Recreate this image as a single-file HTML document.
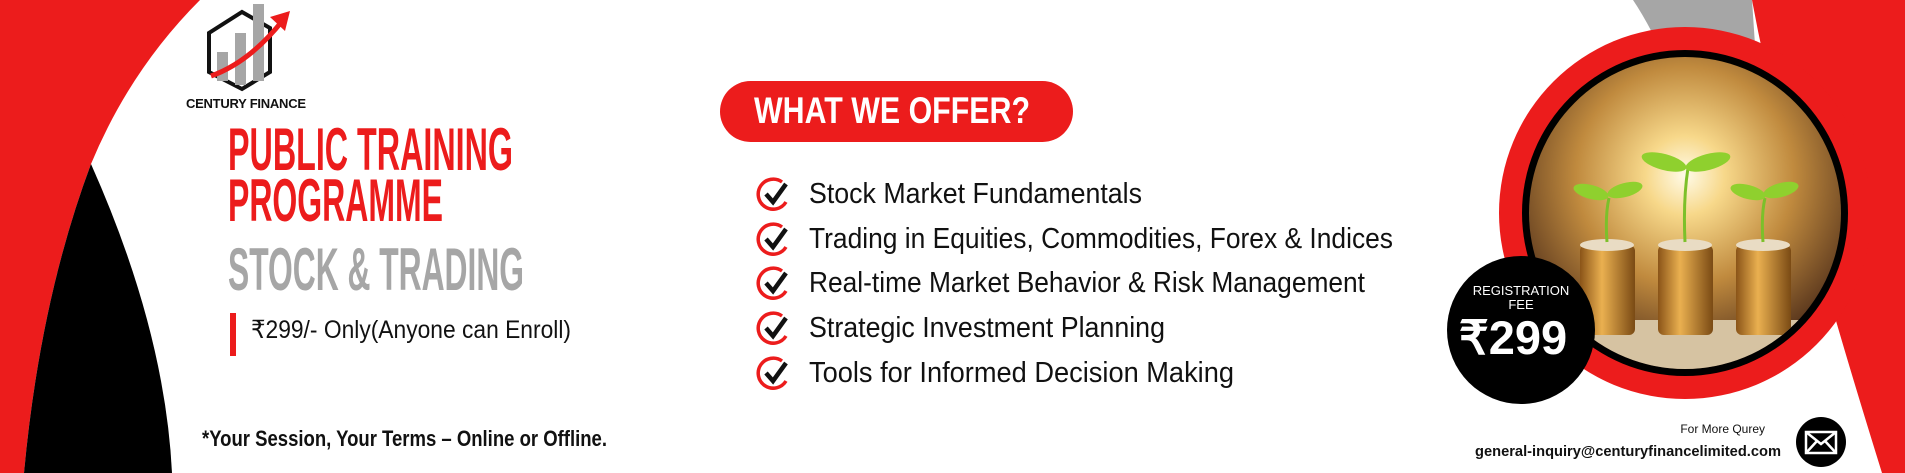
<!DOCTYPE html>
<html><head><meta charset="utf-8"><style>
html,body{margin:0;padding:0;background:#fff;width:1905px;height:473px;overflow:hidden}
svg{display:block}
.n{font-family:"Liberation Sans Narrow","Liberation Sans",sans-serif}
.s{font-family:"Liberation Sans",sans-serif}
</style></head><body>
<svg width="1905" height="473" viewBox="0 0 1905 473">
<defs>
<radialGradient id="glow" cx="0.5" cy="0.38" r="0.6">
<stop offset="0" stop-color="#fffbe8"/><stop offset="0.2" stop-color="#f7d88a"/><stop offset="0.55" stop-color="#c08a3e"/><stop offset="1" stop-color="#4a2a18"/></radialGradient>
<linearGradient id="coin" x1="0" x2="1"><stop offset="0" stop-color="#8a5418"/><stop offset="0.4" stop-color="#eab050"/><stop offset="1" stop-color="#7a4a14"/></linearGradient>
<clipPath id="cc"><circle cx="1685" cy="213" r="156"/></clipPath>
</defs>
<path d="M0 0 L200 0 Q130 70 91 164 Q40 300 24 473 L0 473 Z" fill="#ec1c1c"/>
<path d="M91 164 Q40 300 24 473 L172 473 Q165 330 91 164 Z" fill="#000"/>
<path d="M1633 0 L1752 0 L1760 120 L1690 120 Q1660 40 1633 0 Z" fill="#a6a6a6"/>
<path d="M1752 0 L1905 0 L1905 473 L1882 473 Q1850 370 1830 300 Q1780 150 1752 0 Z" fill="#ec1c1c"/>
<g>
<polygon points="242,12 270,28 270,72 242,89 209,72 209,33" fill="none" stroke="#111" stroke-width="4"/>
<rect x="217" y="52" width="11" height="29" fill="#a6a6a6"/>
<rect x="235" y="33" width="11" height="52" fill="#a6a6a6"/>
<rect x="253" y="4" width="11" height="77" fill="#a6a6a6"/>
<path d="M211 76 Q250 62 283 20" fill="none" stroke="#ec1c1c" stroke-width="5"/>
<polygon points="290,11 270,17 285,31" fill="#ec1c1c"/>
<text x="186" y="108" class="s" font-size="13" font-weight="bold" textLength="120" fill="#111">CENTURY FINANCE</text>
</g>
<text x="228" y="170" class="n" font-size="60" font-weight="bold" fill="#ec1c1c" textLength="285" lengthAdjust="spacingAndGlyphs">PUBLIC TRAINING</text>
<text x="228" y="221" class="n" font-size="60" font-weight="bold" fill="#ec1c1c" textLength="215" lengthAdjust="spacingAndGlyphs">PROGRAMME</text>
<text x="228" y="290" class="n" font-size="60" font-weight="bold" fill="#a6a6a6" textLength="296" lengthAdjust="spacingAndGlyphs">STOCK &amp; TRADING</text>
<rect x="230" y="313" width="6" height="43" fill="#ec1c1c"/>
<text x="251" y="338" class="n" font-size="25" fill="#111" textLength="320" lengthAdjust="spacingAndGlyphs">₹299/- Only(Anyone can Enroll)</text>
<text x="202" y="446" class="n" font-size="22" font-weight="bold" fill="#111" textLength="405" lengthAdjust="spacingAndGlyphs">*Your Session, Your Terms – Online or Offline.</text>
<rect x="720" y="81" width="353" height="61" rx="30.5" fill="#ec1c1c"/>
<text x="754" y="123" class="n" font-size="37" font-weight="bold" fill="#fff" textLength="276" lengthAdjust="spacingAndGlyphs">WHAT WE OFFER?</text>
<g>
<g transform="translate(774,194)"><path d="M8 -12 A15 15 0 1 0 12 8" fill="none" stroke="#ec1c1c" stroke-width="3.5"/><path d="M-8 0 L-1 8 L12 -10" fill="none" stroke="#111" stroke-width="4.5"/></g>
<text x="809" y="203" class="n" font-size="29" fill="#111" textLength="333" lengthAdjust="spacingAndGlyphs">Stock Market Fundamentals</text>
<g transform="translate(774,239)"><path d="M8 -12 A15 15 0 1 0 12 8" fill="none" stroke="#ec1c1c" stroke-width="3.5"/><path d="M-8 0 L-1 8 L12 -10" fill="none" stroke="#111" stroke-width="4.5"/></g>
<text x="809" y="248" class="n" font-size="29" fill="#111" textLength="584" lengthAdjust="spacingAndGlyphs">Trading in Equities, Commodities, Forex &amp; Indices</text>
<g transform="translate(774,283)"><path d="M8 -12 A15 15 0 1 0 12 8" fill="none" stroke="#ec1c1c" stroke-width="3.5"/><path d="M-8 0 L-1 8 L12 -10" fill="none" stroke="#111" stroke-width="4.5"/></g>
<text x="809" y="292" class="n" font-size="29" fill="#111" textLength="556" lengthAdjust="spacingAndGlyphs">Real-time Market Behavior &amp; Risk Management</text>
<g transform="translate(774,328)"><path d="M8 -12 A15 15 0 1 0 12 8" fill="none" stroke="#ec1c1c" stroke-width="3.5"/><path d="M-8 0 L-1 8 L12 -10" fill="none" stroke="#111" stroke-width="4.5"/></g>
<text x="809" y="337" class="n" font-size="29" fill="#111" textLength="356" lengthAdjust="spacingAndGlyphs">Strategic Investment Planning</text>
<g transform="translate(774,373)"><path d="M8 -12 A15 15 0 1 0 12 8" fill="none" stroke="#ec1c1c" stroke-width="3.5"/><path d="M-8 0 L-1 8 L12 -10" fill="none" stroke="#111" stroke-width="4.5"/></g>
<text x="809" y="382" class="n" font-size="29" fill="#111" textLength="425" lengthAdjust="spacingAndGlyphs">Tools for Informed Decision Making</text>
</g>
<g>
<circle cx="1685" cy="213" r="186" fill="#ec1c1c"/>
<circle cx="1685" cy="213" r="163" fill="#000"/>
<g clip-path="url(#cc)">
<rect x="1520" y="50" width="330" height="330" fill="url(#glow)"/>
<rect x="1520" y="320" width="330" height="70" fill="#d6c3a2"/>
<rect x="1580" y="245" width="55" height="90" rx="6" fill="url(#coin)"/>
<rect x="1658" y="245" width="55" height="90" rx="6" fill="url(#coin)"/>
<rect x="1736" y="245" width="55" height="90" rx="6" fill="url(#coin)"/>
<ellipse cx="1607" cy="245" rx="27" ry="6" fill="#e9dcc4"/>
<ellipse cx="1685" cy="245" rx="27" ry="6" fill="#e9dcc4"/>
<ellipse cx="1763" cy="245" rx="27" ry="6" fill="#e9dcc4"/>
<path d="M1607 242 Q1605 215 1609 198 M1685 242 Q1683 200 1688 168 M1763 242 Q1761 215 1765 198" fill="none" stroke="#7cc02a" stroke-width="3"/>
<ellipse cx="1591" cy="192" rx="18" ry="7" fill="#8fd02e" transform="rotate(15 1591 192)"/><ellipse cx="1625" cy="190" rx="18" ry="7" fill="#8fd02e" transform="rotate(-15 1625 190)"/>
<ellipse cx="1664" cy="162" rx="23" ry="8" fill="#8fd02e" transform="rotate(15 1664 162)"/><ellipse cx="1708" cy="162" rx="23" ry="8" fill="#8fd02e" transform="rotate(-15 1708 162)"/>
<ellipse cx="1748" cy="192" rx="18" ry="7" fill="#8fd02e" transform="rotate(15 1748 192)"/><ellipse cx="1781" cy="190" rx="18" ry="7" fill="#8fd02e" transform="rotate(-15 1781 190)"/>
</g>
</g>
<g>
<circle cx="1521" cy="330" r="74" fill="#000"/>
<text x="1521" y="295" text-anchor="middle" class="s" font-size="13" fill="#fff">REGISTRATION</text>
<text x="1521" y="309" text-anchor="middle" class="s" font-size="13" fill="#fff">FEE</text>
<text x="1513" y="354" text-anchor="middle" class="s" font-size="47" font-weight="bold" fill="#fff">₹299</text>
</g>
<text x="1765" y="433" text-anchor="end" class="s" font-size="12" fill="#111">For More Qurey</text>
<text x="1475" y="456" class="s" font-size="15" font-weight="bold" fill="#111" textLength="306" lengthAdjust="spacingAndGlyphs">general-inquiry@centuryfinancelimited.com</text>
<g>
<circle cx="1821" cy="442" r="25" fill="#000"/>
<rect x="1806" y="432" width="30" height="21" fill="none" stroke="#fff" stroke-width="2.5"/>
<path d="M1806 432 L1821 444 L1836 432 M1806 453 L1817 441 M1836 453 L1825 441" fill="none" stroke="#fff" stroke-width="2.5"/>
</g>
</svg>
</body></html>
